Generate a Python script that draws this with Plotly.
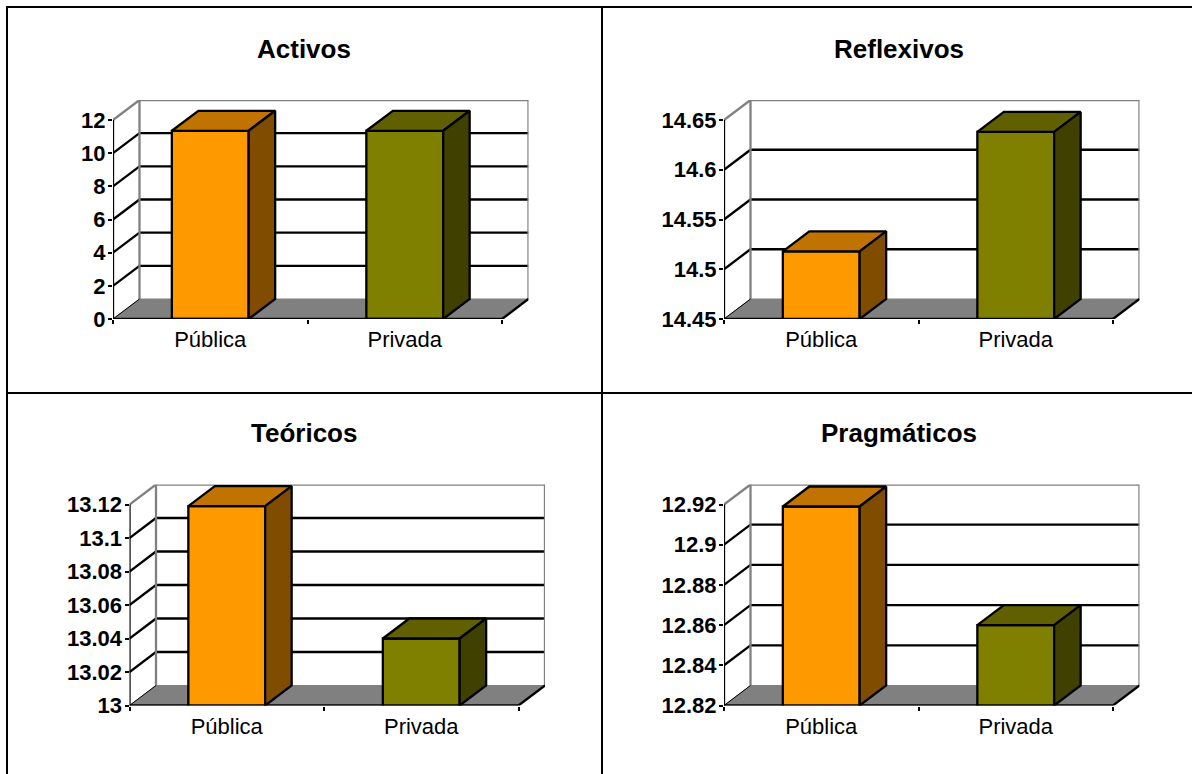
import plotly.graph_objects as go

CATEGORIES = ["Pública", "Privada"]
TITLES = ["Activos", "Reflexivos", "Teóricos", "Pragmáticos"]

ACTIVOS_VALUES = [11.35, 11.35]
REFLEXIVOS_VALUES = [14.518, 14.638]
TEORICOS_VALUES = [13.119, 13.04]
PRAGMATICOS_VALUES = [12.919, 12.86]

ACTIVOS_TICKS = [0, 2, 4, 6, 8, 10, 12]
REFLEXIVOS_TICKS = [14.45, 14.5, 14.55, 14.6, 14.65]
TEORICOS_TICKS = [13, 13.02, 13.04, 13.06, 13.08, 13.1, 13.12]
PRAGMATICOS_TICKS = [12.82, 12.84, 12.86, 12.88, 12.9, 12.92]

ACTIVOS_LABELS = ["0", "2", "4", "6", "8", "10", "12"]
REFLEXIVOS_LABELS = ["14.45", "14.5", "14.55", "14.6", "14.65"]
TEORICOS_LABELS = ["13", "13.02", "13.04", "13.06", "13.08", "13.1", "13.12"]
PRAGMATICOS_LABELS = ["12.82", "12.84", "12.86", "12.88", "12.9", "12.92"]

W, H = 1192, 774
DEPTH_X, DEPTH_Y = 26.5, 20
BAR_WIDTH = 0.395
LW = 2.3

FRONT_COLORS = ["#FF9900", "#808000"]
TOP_COLORS = ["#C07300", "#606000"]
SIDE_COLORS = ["#804D00", "#404000"]
FLOOR = "#808080"
WALL = "#808080"
FONT = "Liberation Sans"

# pixel frame of each front plane: left, right, bottom, top, title centre x, title y
FRAMES = [
    (113, 502, 319, 120, 304, 49),
    (724, 1113, 319, 120, 899, 49),
    (129.5, 518.5, 705.5, 504.5, 304, 433),
    (724, 1113, 705.5, 504.5, 899, 433),
]
VALUES = [ACTIVOS_VALUES, REFLEXIVOS_VALUES, TEORICOS_VALUES, PRAGMATICOS_VALUES]
TICKS = [ACTIVOS_TICKS, REFLEXIVOS_TICKS, TEORICOS_TICKS, PRAGMATICOS_TICKS]
LABELS = [ACTIVOS_LABELS, REFLEXIVOS_LABELS, TEORICOS_LABELS, PRAGMATICOS_LABELS]

fig = go.Figure()
shapes = []
annotations = []


def seg(xr, yr, x0, y0, x1, y1, color, width, layer="below"):
    shapes.append(dict(type="line", xref=xr, yref=yr, x0=x0, y0=y0, x1=x1, y1=y1,
                       line=dict(color=color, width=width), layer=layer))


for i, (frame, vals, ticks, labels, title) in enumerate(zip(FRAMES, VALUES, TICKS, LABELS, TITLES)):
    left, right, bottom, top, title_x, title_y = frame
    suffix = "" if i == 0 else str(i + 1)
    xa, ya = "x" + suffix, "y" + suffix
    lo, hi = ticks[0], ticks[-1]
    dx = DEPTH_X / ((right - left) / 2)
    dy = DEPTH_Y / (bottom - top) * (hi - lo)
    x0, x1 = -0.5, 1.5

    fig.layout["xaxis" + suffix] = dict(
        domain=[left / W, (right + DEPTH_X) / W], range=[x0, x1 + dx], anchor=ya,
        tickvals=[0, 1], ticktext=CATEGORIES, ticks="", showgrid=False, zeroline=False,
        showline=False, ticklabelstandoff=5, tickangle=0, automargin=False,
        tickfont=dict(family=FONT, size=22, color="#000000"),
        minor=dict(tickvals=[x0, 0.5, x1], ticks="outside", ticklen=4, tickwidth=2,
                   tickcolor="#000000", showgrid=False),
    )
    fig.layout["yaxis" + suffix] = dict(
        domain=[1 - bottom / H, 1 - (top - DEPTH_Y) / H], range=[lo, hi + dy], anchor=xa,
        tickvals=ticks, ticktext=labels, ticks="outside", ticklen=4, tickwidth=2,
        tickcolor="#000000", showgrid=False, zeroline=False, showline=False,
        ticklabelstandoff=-2, automargin=False,
        tickfont=dict(family=FONT, size=22, color="#000000", weight="bold"),
    )

    # floor
    shapes.append(dict(type="path", xref=xa, yref=ya, layer="below", fillcolor=FLOOR,
                       line=dict(color=FLOOR, width=1),
                       path=f"M {x0} {lo} L {x0+dx} {lo+dy} L {x1+dx} {lo+dy} L {x1} {lo} Z"))
    # grid lines on side wall and back wall
    for t in ticks[1:-1]:
        seg(xa, ya, x0, t, x0 + dx, t + dy, "#000000", LW)
        seg(xa, ya, x0 + dx, t + dy, x1 + dx, t + dy, "#000000", LW)
    # wall outline
    seg(xa, ya, x0, hi, x0 + dx, hi + dy, WALL, LW)
    seg(xa, ya, x0 + dx, lo + dy, x0 + dx, hi + dy, WALL, LW)
    seg(xa, ya, x0 + dx, hi + dy, x1 + dx, hi + dy, WALL, LW)
    seg(xa, ya, x1 + dx, lo + dy, x1 + dx, hi + dy, WALL, LW)
    # front frame
    seg(xa, ya, x0, lo, x0, hi, "#000000", LW, "above")
    seg(xa, ya, x0, lo, x1, lo, "#000000", LW, "above")
    seg(xa, ya, x1, lo, x1 + dx, lo + dy, "#000000", LW, "above")
    seg(xa, ya, x0, lo, x0 + dx, lo + dy, "#000000", 1, "below")

    # bar front faces
    fig.add_trace(go.Bar(
        x=[0, 1], y=vals, width=BAR_WIDTH, xaxis=xa, yaxis=ya, showlegend=False,
        marker=dict(color=FRONT_COLORS, line=dict(color="#000000", width=LW)),
        hoverinfo="skip",
    ))
    # bar top and side faces
    for c, v in enumerate(vals):
        a, b = c - BAR_WIDTH / 2, c + BAR_WIDTH / 2
        fig.add_trace(go.Scatter(
            x=[a, a + dx, b + dx, b, a], y=[v, v + dy, v + dy, v, v],
            mode="lines", fill="toself", fillcolor=TOP_COLORS[c],
            line=dict(color="#000000", width=LW), xaxis=xa, yaxis=ya,
            showlegend=False, hoverinfo="skip",
        ))
        fig.add_trace(go.Scatter(
            x=[b, b + dx, b + dx, b, b], y=[v, v + dy, lo + dy, lo, v],
            mode="lines", fill="toself", fillcolor=SIDE_COLORS[c],
            line=dict(color="#000000", width=LW), xaxis=xa, yaxis=ya,
            showlegend=False, hoverinfo="skip",
        ))

    annotations.append(dict(
        text=f"<b>{title}</b>", xref="paper", yref="paper", x=title_x / W, y=1 - title_y / H,
        xanchor="center", yanchor="middle", showarrow=False,
        font=dict(family=FONT, size=26, color="#000000"),
    ))

# table rules
for x_a, y_a, x_b, y_b in [
    (6, 7, 1192, 7), (7, 6, 7, 774), (602, 7, 602, 774), (7, 393, 1192, 393),
]:
    shapes.append(dict(type="line", xref="paper", yref="paper",
                       x0=x_a / W, y0=1 - y_a / H, x1=x_b / W, y1=1 - y_b / H,
                       line=dict(color="#000000", width=2), layer="above"))

fig.update_layout(
    width=W, height=H, autosize=False, margin=dict(l=0, r=0, t=0, b=0, pad=0),
    paper_bgcolor="#FFFFFF", plot_bgcolor="rgba(0,0,0,0)",
    barmode="overlay", showlegend=False, shapes=shapes, annotations=annotations,
)

fig.write_html(
    "out.html",
    config={"displayModeBar": False, "responsive": False},
    default_width=f"{W}px",
    default_height=f"{H}px",
    post_script="document.body.style.margin='0';document.documentElement.style.overflow='hidden';",
)
